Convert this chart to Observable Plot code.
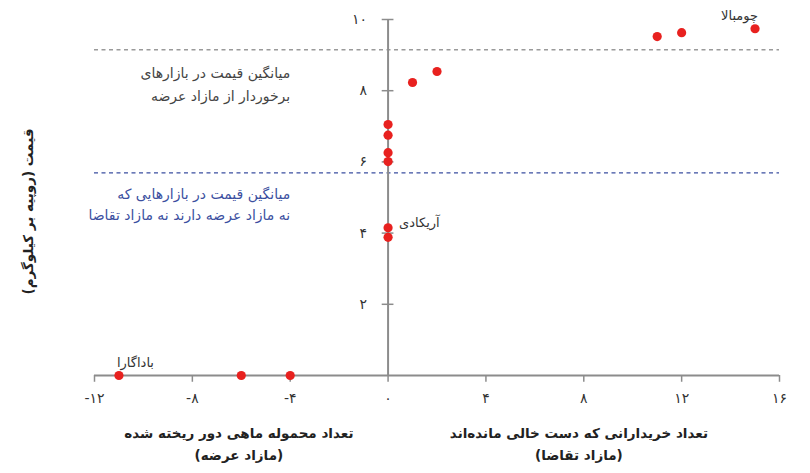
<!DOCTYPE html>
<html>
<head>
<meta charset="utf-8">
<script src="https://cdn.jsdelivr.net/npm/d3@7"></script>
<script src="https://cdn.jsdelivr.net/npm/@observablehq/plot@0.6"></script>
<style>
  body { margin: 0; background: #fff; }
</style>
</head>
<body>
<div id="chart"></div>
<script>
const RLM = "\u200F";
const xTicks = [-12, -8, -4, 0, 4, 8, 12, 16];
const yTicks = [2, 4, 6, 8, 10];

const marketX     = [-11, -6, -4, 0, 0, 0, 0, 0, 0, 1, 2, 11, 12, 15];
const marketPrice = [0, 0, 0, 7.05, 6.75, 6.26, 6.01, 4.15, 3.88, 8.23, 8.54, 9.52, 9.63, 9.74];

const labelNames = ["باداگارا", "آریکادی", "چومبالا"];
const labelX     = [-11, 0, 15];
const labelPrice = [0, 4.15, 9.74];

const avgSupplyPrice = 9.15;
const avgBalancedPrice = 5.69;
const noteSupply = ["میانگین قیمت در بازارهای", "برخوردار از مازاد عرضه"];
const noteBalanced = ["میانگین قیمت در بازارهایی که", "نه مازاد عرضه دارند نه مازاد تقاضا"];

const yTitle = "قیمت (روپیه بر کیلوگرم)";
const xTitleLeft = ["تعداد محموله ماهی دور ریخته شده", "(مازاد عرضه)"];
const xTitleRight = ["تعداد خریدارانی که دست خالی مانده‌اند", "(مازاد تقاضا)"];

const fa = d => String(d).replace(/\d/g, c => "۰۱۲۳۴۵۶۷۸۹"[c]);
const rtl = s => RLM + s + RLM;

const markets = marketX.map((x, i) => ({x, y: marketPrice[i]}));
const labels = labelNames.map((n, i) => ({n, x: labelX[i], y: labelPrice[i]}));
const xMin = xTicks[0], xMax = xTicks[xTicks.length - 1];
const axisColor = "#8c8c8c";

const chart = Plot.plot({
  width: 810,
  height: 473,
  marginLeft: 94,
  marginRight: 31,
  marginTop: 19,
  marginBottom: 98,
  x: {domain: [xMin, xMax], axis: null},
  y: {domain: [0, 10], axis: null},
  style: {fontFamily: "DejaVu Sans", fontSize: "14px", background: "white", overflow: "visible"},
  marks: [
    Plot.ruleY([avgSupplyPrice], {x1: xMin, x2: xMax, stroke: "#9a9a9a", strokeWidth: 1.3, strokeDasharray: "4,3.5"}),
    Plot.ruleY([avgBalancedPrice], {x1: xMin, x2: xMax, stroke: "#3b4fa0", strokeWidth: 1.3, strokeDasharray: "4,3.5"}),
    Plot.ruleY([0], {x1: xMin, x2: xMax, stroke: axisColor, strokeWidth: 2}),
    Plot.ruleX([0], {y1: 0, y2: 10, stroke: axisColor, strokeWidth: 2}),
    Plot.ruleY(yTicks, {y: d => d, x1: -0.24, x2: 0.24, stroke: axisColor, strokeWidth: 1.5}),
    Plot.ruleX(xTicks, {x: d => d, y1: 0, y2: -0.19, stroke: axisColor, strokeWidth: 1.5}),
    Plot.text(yTicks, {x: 0, y: d => d, text: fa, dx: -21, textAnchor: "end", fill: "#333", fontSize: 14}),
    Plot.text(xTicks, {x: d => d, y: 0, text: fa, dy: 23, fill: "#333", fontSize: 14}),
    Plot.dot(markets, {x: "x", y: "y", r: 4.6, fill: "#e8211f"}),
    Plot.text(labels.slice(0, 1), {x: "x", y: "y", text: d => rtl(d.n), dx: -2, dy: -13, textAnchor: "start", fill: "#333", fontSize: 13}),
    Plot.text(labels.slice(1, 2), {x: "x", y: "y", text: d => rtl(d.n), dx: 11, dy: -5, textAnchor: "start", fill: "#333", fontSize: 13}),
    Plot.text(labels.slice(2, 3), {x: "x", y: "y", text: d => rtl(d.n), dx: 3, dy: -13, textAnchor: "end", fill: "#333", fontSize: 13}),
    Plot.text([noteSupply.map(rtl).join("\n")], {x: -4, y: 8.23, text: d => d, textAnchor: "end", lineHeight: 1.6, fill: "#444", fontSize: 14}),
    Plot.text([noteBalanced.map(rtl).join("\n")], {x: -4, y: 4.86, text: d => d, textAnchor: "end", lineHeight: 1.55, fill: "#3b4fa0", fontSize: 14}),
    Plot.text([xTitleLeft.map(rtl).join("\n")], {x: -6.1, y: 0, text: d => d, dy: 66, lineHeight: 1.65, fill: "#222", fontSize: 13.5, fontWeight: "bold"}),
    Plot.text([xTitleRight.map(rtl).join("\n")], {x: 7.8, y: 0, text: d => d, dy: 66, lineHeight: 1.65, fill: "#222", fontSize: 13.5, fontWeight: "bold"}),
    Plot.text([rtl(yTitle)], {frameAnchor: "left", text: d => d, dx: -66, dy: 97, rotate: -90, fill: "#222", fontSize: 13.5, fontWeight: "bold"})
  ]
});
document.getElementById("chart").appendChild(chart);
</script>
</body>
</html>
